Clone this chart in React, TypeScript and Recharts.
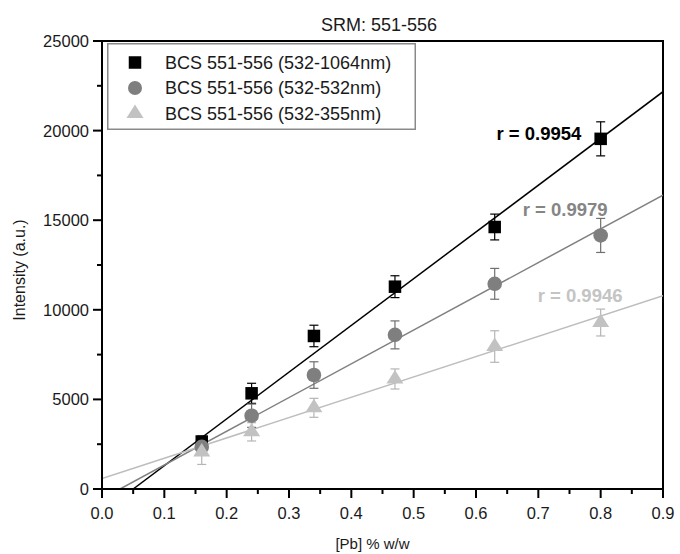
import React from 'react';
import {
  ComposedChart,
  XAxis,
  YAxis,
  Scatter,
  Line,
  ErrorBar,
  ReferenceDot,
  ReferenceArea,
  Legend,
} from 'recharts';

// ---------- data ----------
const concentrations = [0.16, 0.24, 0.34, 0.47, 0.63, 0.8];

const intensity1064 = [2650, 5340, 8540, 11290, 14620, 19540];
const error1064 = [300, 560, 600, 610, 720, 950];

const intensity532 = [2350, 4090, 6360, 8600, 11450, 14150];
const error532 = [400, 650, 740, 780, 860, 950];

const intensity355 = [2070, 3190, 4530, 6140, 7950, 9290];
const error355 = [700, 510, 530, 560, 880, 750];

// fitted regression lines (end points)
const fitX1064 = [0.05, 0.9];
const fitY1064 = [0, 22170];
const fitX532 = [0.029, 0.9];
const fitY532 = [0, 16400];
const fitX355 = [0, 0.9];
const fitY355 = [580, 10790];

const seriesNames = [
  'BCS 551-556 (532-1064nm)',
  'BCS 551-556 (532-532nm)',
  'BCS 551-556 (532-355nm)',
];

const correlationLabels = ['r = 0.9954', 'r = 0.9979', 'r = 0.9946'];
const correlationX = [0.701, 0.743, 0.767];
const correlationY = [19850, 15570, 10790];

const xMajorTicks = [0, 0.1, 0.2, 0.3, 0.4, 0.5, 0.6, 0.7, 0.8, 0.9];
const xMinorTicks = [0.05, 0.15, 0.25, 0.35, 0.45, 0.55, 0.65, 0.75, 0.85];
const yMajorTicks = [0, 5000, 10000, 15000, 20000, 25000];
const yMinorTicks = [2500, 7500, 12500, 17500, 22500];

const chartTitle = 'SRM: 551-556';
const xAxisTitle = '[Pb] % w/w';
const yAxisTitle = 'Intensity (a.u.)';

// ---------- styles ----------
const COLORS = ['#000000', '#7f7f7f', '#c2c2c2'];
const LINE_COLORS = ['#000000', '#808080', '#bdbdbd'];
const LABEL_COLORS = ['#000000', '#858585', '#c4c4c4'];
const FONT = '"Liberation Sans", Arial, Helvetica, sans-serif';

const buildPoints = (ys: number[], errs: number[]) =>
  concentrations.map((x, i) => ({ x, y: ys[i], err: errs[i] }));
const buildFit = (xs: number[], ys: number[]) => xs.map((x, i) => ({ x, y: ys[i] }));

const pts1064 = buildPoints(intensity1064, error1064);
const pts532 = buildPoints(intensity532, error532);
const pts355 = buildPoints(intensity355, error355);
const fit1064 = buildFit(fitX1064, fitY1064);
const fit532 = buildFit(fitX532, fitY532);
const fit355 = buildFit(fitX355, fitY355);

const isIn = (arr: number[], v: number) => arr.some((t) => Math.abs(t - v) < 1e-6);

const XTick = (props: any) => {
  const { x, y, payload } = props;
  const v = payload.value as number;
  const major = isIn(xMajorTicks, v);
  return (
    <g>
      <line x1={x} x2={x} y1={y} y2={y + (major ? 9 : 5)} stroke="#000" strokeWidth={2} />
      {major && (
        <text
          x={x}
          y={y + 24}
          textAnchor="middle"
          dominantBaseline="central"
          fontSize={16.5}
          fill="#1a1a1a"
          fontFamily={FONT}
        >
          {v.toFixed(1)}
        </text>
      )}
    </g>
  );
};

const YTick = (props: any) => {
  const { x, y, payload } = props;
  const v = payload.value as number;
  const major = isIn(yMajorTicks, v);
  return (
    <g>
      <line x1={x} x2={x - (major ? 9 : 5)} y1={y} y2={y} stroke="#000" strokeWidth={2} />
      {major && (
        <text
          x={x - 13}
          y={y}
          textAnchor="end"
          dominantBaseline="central"
          fontSize={16.5}
          fill="#1a1a1a"
          fontFamily={FONT}
        >
          {v}
        </text>
      )}
    </g>
  );
};

const SquareShape = (props: any) => {
  const { cx, cy } = props;
  const s = 12.5;
  return <rect x={cx - s / 2} y={cy - s / 2} width={s} height={s} fill={COLORS[0]} />;
};
const CircleShape = (props: any) => {
  const { cx, cy } = props;
  return <circle cx={cx} cy={cy} r={7.3} fill={COLORS[1]} />;
};
const TriangleShape = (props: any) => {
  const { cx, cy } = props;
  const w = 17;
  const h = 13.5;
  const pts = `${cx},${cy - (2 * h) / 3} ${cx - w / 2},${cy + h / 3} ${cx + w / 2},${cy + h / 3}`;
  return <polygon points={pts} fill={COLORS[2]} />;
};

const LegendContent = () => {
  const rows = [19.5, 45, 70.5];
  return (
    <svg width={309} height={87} style={{ display: 'block' }}>
      <rect x={0.75} y={0.75} width={307.5} height={85.5} fill="#fff" stroke="#8a8a8a" strokeWidth={1.5} />
      <rect x={28 - 6.25} y={rows[0] - 6.25} width={12.5} height={12.5} fill={COLORS[0]} />
      <circle cx={28} cy={rows[1]} r={7} fill={COLORS[1]} />
      <polygon
        points={`28,${rows[2] - 9} 19.5,${rows[2] + 4.5} 36.5,${rows[2] + 4.5}`}
        fill={COLORS[2]}
      />
      {seriesNames.map((n, i) => (
        <text
          key={n}
          x={58}
          y={rows[i]}
          dominantBaseline="central"
          fontSize={18}
          fill="#1a1a1a"
          fontFamily={FONT}
        >
          {n}
        </text>
      ))}
    </svg>
  );
};

const XAxisLabel = (props: any) => {
  const vb = props.viewBox || {};
  return (
    <text
      x={vb.x + vb.width / 2 - 10}
      y={vb.y + 54}
      textAnchor="middle"
      dominantBaseline="central"
      fontSize={15}
      fill="#1a1a1a"
      fontFamily={FONT}
    >
      {xAxisTitle}
    </text>
  );
};

const YAxisLabel = (props: any) => {
  const vb = props.viewBox || {};
  const cx = 19;
  const cy = vb.y + vb.height / 2 + 5;
  return (
    <text
      x={cx}
      y={cy}
      transform={`rotate(-90 ${cx} ${cy})`}
      textAnchor="middle"
      dominantBaseline="central"
      fontSize={16}
      fill="#1a1a1a"
      fontFamily={FONT}
    >
      {yAxisTitle}
    </text>
  );
};

const makeCorrLabel = (text: string, color: string) => (props: any) => {
  const vb = props.viewBox || {};
  const cx = (vb.x ?? 0) + (vb.width ?? 0) / 2;
  const cy = (vb.y ?? 0) + (vb.height ?? 0) / 2;
  return (
    <text
      x={cx}
      y={cy}
      textAnchor="middle"
      dominantBaseline="central"
      fontSize={18.5}
      fontWeight="bold"
      fill={color}
      fontFamily={FONT}
    >
      {text}
    </text>
  );
};

export default function App() {
  return (
    <div
      style={{
        position: 'absolute',
        left: 0,
        top: 0,
        width: 680,
        height: 554,
        background: '#fff',
        fontFamily: FONT,
      }}
    >
      <div
        style={{
          position: 'absolute',
          left: 279,
          top: 14,
          width: 200,
          textAlign: 'center',
          fontSize: 18,
          lineHeight: '22px',
          color: '#1a1a1a',
          zIndex: 2,
        }}
      >
        {chartTitle}
      </div>
      <ComposedChart
        width={680}
        height={554}
        margin={{ top: 41, right: 17, bottom: 0, left: 0 }}
      >
        <XAxis
          type="number"
          dataKey="x"
          domain={[0, 0.9]}
          allowDataOverflow
          ticks={[...xMajorTicks, ...xMinorTicks].sort((a, b) => a - b)}
          tick={<XTick />}
          tickLine={false}
          tickSize={0}
          tickMargin={0}
          interval={0}
          height={65}
          axisLine={{ stroke: '#000', strokeWidth: 2 }}
          label={{ content: <XAxisLabel /> }}
        />
        <YAxis
          type="number"
          domain={[0, 25000]}
          allowDataOverflow
          ticks={[...yMajorTicks, ...yMinorTicks].sort((a, b) => a - b)}
          tick={<YTick />}
          tickLine={false}
          tickSize={0}
          tickMargin={0}
          interval={0}
          width={102}
          axisLine={{ stroke: '#000', strokeWidth: 2 }}
          label={{ content: <YAxisLabel /> }}
        />
        <ReferenceArea
          x1={0}
          x2={0.9}
          y1={0}
          y2={25000}
          fill="none"
          fillOpacity={0}
          stroke="#000"
          strokeWidth={2}
        />
        <Line
          data={fit1064}
          dataKey="y"
          type="linear"
          stroke={LINE_COLORS[0]}
          strokeWidth={1.5}
          dot={false}
          activeDot={false}
          legendType="none"
          isAnimationActive={false}
        />
        <Line
          data={fit532}
          dataKey="y"
          type="linear"
          stroke={LINE_COLORS[1]}
          strokeWidth={1.5}
          dot={false}
          activeDot={false}
          legendType="none"
          isAnimationActive={false}
        />
        <Line
          data={fit355}
          dataKey="y"
          type="linear"
          stroke={LINE_COLORS[2]}
          strokeWidth={1.5}
          dot={false}
          activeDot={false}
          legendType="none"
          isAnimationActive={false}
        />
        <Scatter
          name={seriesNames[0]}
          data={pts1064}
          dataKey="y"
          shape={<SquareShape />}
          fill={COLORS[0]}
          isAnimationActive={false}
        >
          <ErrorBar dataKey="err" direction="y" width={4.5} stroke={COLORS[0]} strokeWidth={1.2} />
        </Scatter>
        <Scatter
          name={seriesNames[1]}
          data={pts532}
          dataKey="y"
          shape={<CircleShape />}
          fill={COLORS[1]}
          isAnimationActive={false}
        >
          <ErrorBar dataKey="err" direction="y" width={4.5} stroke="#6f6f6f" strokeWidth={1.2} />
        </Scatter>
        <Scatter
          name={seriesNames[2]}
          data={pts355}
          dataKey="y"
          shape={<TriangleShape />}
          fill={COLORS[2]}
          isAnimationActive={false}
        >
          <ErrorBar dataKey="err" direction="y" width={4.5} stroke="#b5b5b5" strokeWidth={1.2} />
        </Scatter>
        {correlationLabels.map((lbl, i) => (
          <ReferenceDot
            key={lbl}
            x={correlationX[i]}
            y={correlationY[i]}
            r={0}
            fill="none"
            stroke="none"
            label={{ content: makeCorrLabel(lbl, LABEL_COLORS[i]) }}
          />
        ))}
        <Legend
          layout="horizontal"
          verticalAlign="middle"
          align="center"
          wrapperStyle={{ left: 107, top: 43, width: 309, height: 87 }}
          content={<LegendContent />}
        />
      </ComposedChart>
    </div>
  );
}
